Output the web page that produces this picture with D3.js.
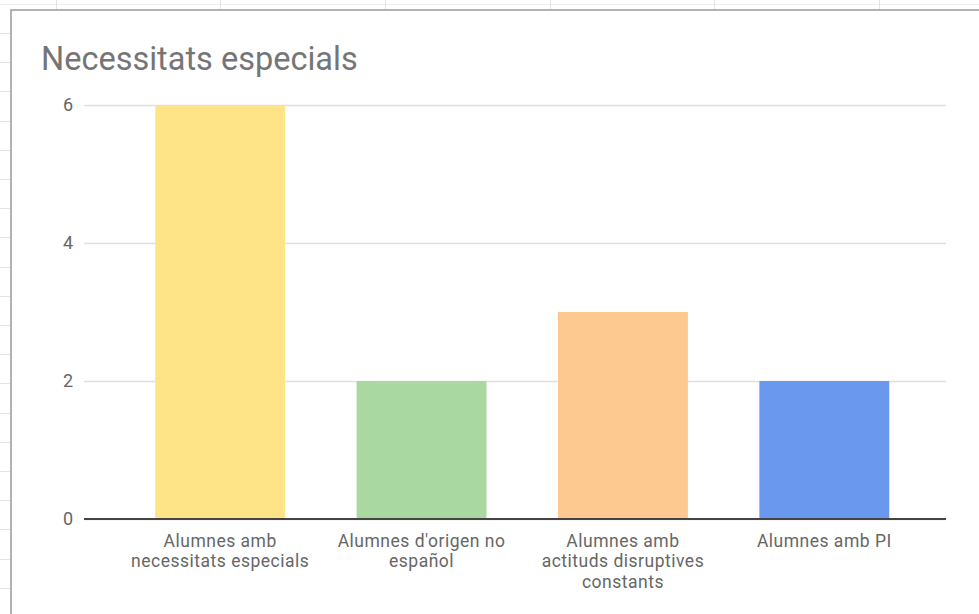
<!DOCTYPE html>
<html>
<head>
<meta charset="utf-8">
<script src="https://cdn.jsdelivr.net/npm/d3@7"></script>
<style>
  html, body { margin: 0; padding: 0; background: #fff; }
  svg { display: block; }
</style>
</head>
<body>
<svg id="chart" width="979" height="614"></svg>
<script>
const title = "Necessitats especials";
const categories = [
  ["Alumnes amb", "necessitats especials"],
  ["Alumnes d'origen no", "español"],
  ["Alumnes amb", "actituds disruptives", "constants"],
  ["Alumnes amb PI"]
];
const values = [6, 2, 3, 2];
const colors = ["#FFE387", "#A9D9A1", "#FEC891", "#6A98EE"];
const yTicks = [0, 2, 4, 6];

const svg = d3.select("#chart");
const font = "Roboto, 'Open Sans', sans-serif";

// spreadsheet background grid
const bg = svg.append("g");
bg.append("line").attr("x1", 0).attr("x2", 979).attr("y1", 4.5).attr("y2", 4.5)
  .attr("stroke", "#f0f0f0").attr("stroke-width", 1);
[56, 220, 385, 550, 714, 879].forEach(x => {
  bg.append("line").attr("x1", x + 0.5).attr("x2", x + 0.5).attr("y1", 0).attr("y2", 10)
    .attr("stroke", "#e4e4e4").attr("stroke-width", 1);
});
for (let y = 33; y < 614; y += 29.2) {
  bg.append("line").attr("x1", 0).attr("x2", 10).attr("y1", Math.round(y) + 0.5).attr("y2", Math.round(y) + 0.5)
    .attr("stroke", "#e4e4e4").attr("stroke-width", 1);
}

// chart box
svg.append("rect").attr("x", 11).attr("y", 10).attr("width", 1000).attr("height", 700)
  .attr("fill", "#fff").attr("stroke", "#9a9a9a").attr("stroke-width", 1.5);

// title
svg.append("text").attr("x", 41).attr("y", 70).text(title)
  .attr("font-family", font).attr("font-size", 32.5).attr("fill", "#757575");

const y = d3.scaleLinear().domain([0, 6]).range([519, 105]);
const x = d3.scaleBand().domain(d3.range(categories.length))
  .range([119.5, 925]).paddingInner(0.355).paddingOuter(0.1775);

// gridlines
const yAxis = d3.axisLeft(y).tickValues(yTicks).tickFormat(d3.format("d")).tickSize(-862).tickPadding(11);
const gy = svg.append("g").attr("transform", "translate(84,0)").call(yAxis);
gy.select(".domain").remove();
gy.selectAll(".tick line").attr("stroke", "#e0e0e0").attr("stroke-width", 1.5);
gy.selectAll(".tick text").attr("font-family", font).attr("font-size", 18).attr("fill", "#666");

// bars
svg.append("g").selectAll("rect").data(values).join("rect")
  .attr("x", (d, i) => x(i))
  .attr("width", x.bandwidth())
  .attr("y", d => y(d))
  .attr("height", d => y(0) - y(d))
  .attr("fill", (d, i) => colors[i]);

// baseline
svg.append("line").attr("x1", 84).attr("x2", 946).attr("y1", y(0)).attr("y2", y(0))
  .attr("stroke", "#444").attr("stroke-width", 2);

// x labels
const xl = svg.append("g");
categories.forEach((lines, i) => {
  lines.forEach((ln, j) => {
    xl.append("text").attr("text-anchor", "middle")
      .attr("font-family", font).attr("font-size", 17.5).attr("letter-spacing", 0.5)
      .attr("fill", "#666")
      .attr("x", x(i) + x.bandwidth() / 2).attr("y", 546.5 + j * 20.5).text(ln);
  });
});
</script>
</body>
</html>
